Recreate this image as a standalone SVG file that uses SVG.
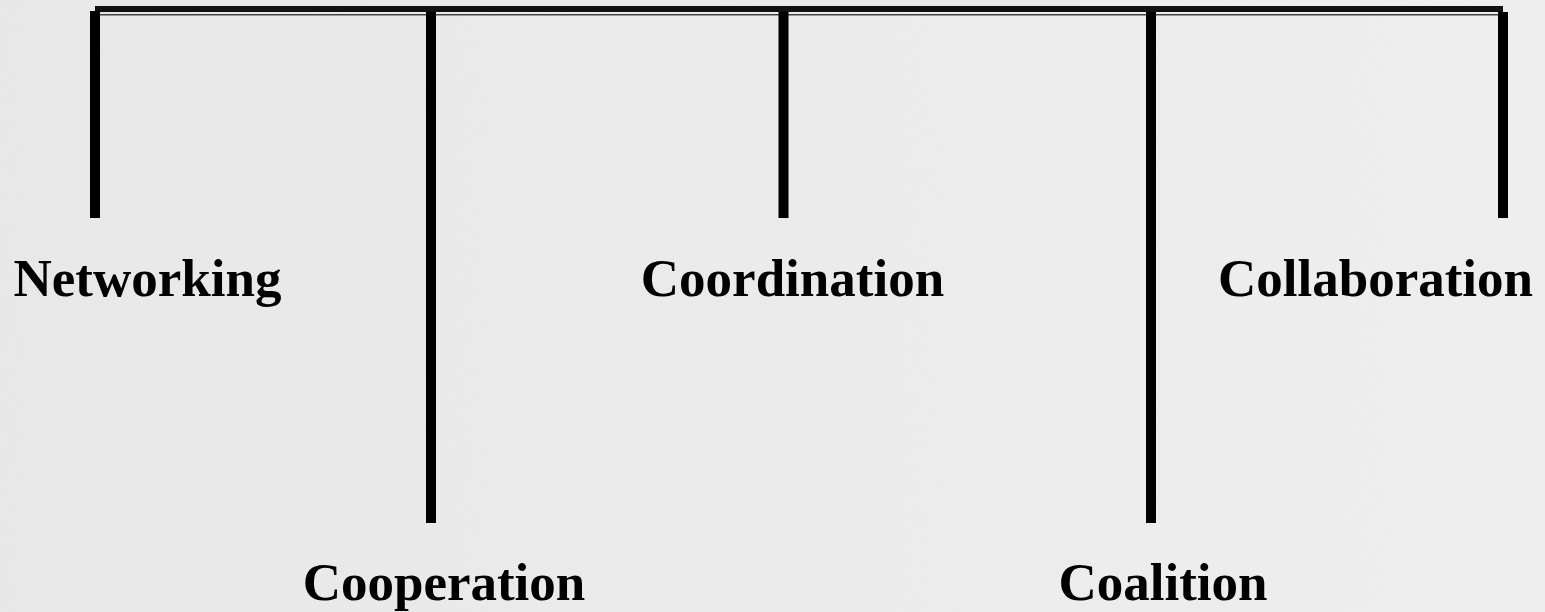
<svg xmlns="http://www.w3.org/2000/svg" width="1545" height="612" viewBox="0 0 1545 612">
  <style>
    .lbl { font-family: "Liberation Serif", "Times New Roman", serif; font-weight: bold; font-size: 53px; fill: #000; text-anchor: middle; }
    .stem { stroke: #000; stroke-width: 10; fill: none; }
  </style>
  <defs>
    <filter id="paper" x="0" y="0" width="100%" height="100%">
      <feTurbulence type="fractalNoise" baseFrequency="0.6" numOctaves="3" seed="4" result="n"/>
      <feColorMatrix in="n" type="matrix" values="0 0 0 0 0.5  0 0 0 0 0.5  0 0 0 0 0.5  0 0 0 0.06 0" result="g"/>
      <feComposite in="g" in2="SourceGraphic" operator="over"/>
    </filter>
    <linearGradient id="bg" x1="0" y1="0" x2="1" y2="0">
      <stop offset="0" stop-color="#e9e9e9"/>
      <stop offset="1" stop-color="#efefef"/>
    </linearGradient>
  </defs>
  <rect width="1545" height="612" fill="url(#bg)" filter="url(#paper)"/>
  <g id="connectors">
    <rect x="95" y="6" width="1408" height="6" fill="#111"/>
    <rect x="100" y="14" width="1398" height="1.5" fill="#444"/>
    <line class="stem" x1="95" y1="11" x2="95" y2="218"/>
    <line class="stem" x1="431" y1="12" x2="431" y2="523"/>
    <line class="stem" x1="783.5" y1="12" x2="783.5" y2="218"/>
    <line class="stem" x1="1151" y1="12" x2="1151" y2="523"/>
    <line class="stem" x1="1503" y1="12" x2="1503" y2="218"/>
  </g>
  <g id="networking"><text class="lbl" x="147.5" y="296">Networking</text></g>
  <g id="cooperation"><text class="lbl" x="444" y="600">Cooperation</text></g>
  <g id="coordination"><text class="lbl" x="792.5" y="296">Coordination</text></g>
  <g id="coalition"><text class="lbl" x="1163" y="600">Coalition</text></g>
  <g id="collaboration"><text class="lbl" x="1375.5" y="296">Collaboration</text></g>
</svg>
